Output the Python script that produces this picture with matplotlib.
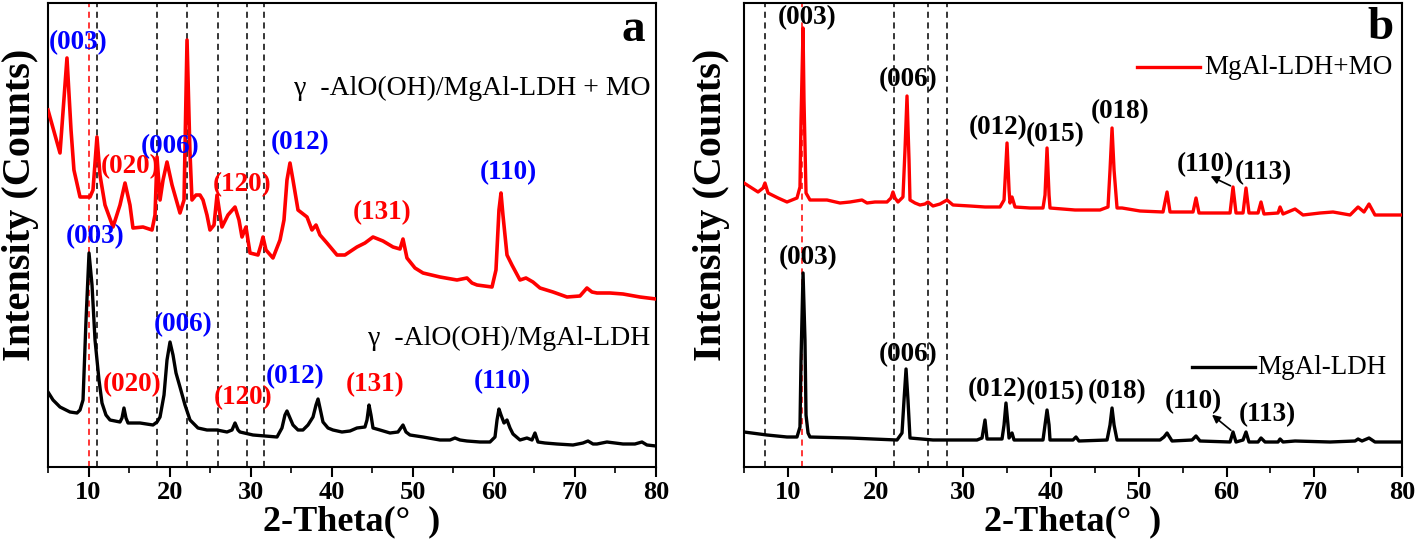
import matplotlib
matplotlib.use("Agg")
import matplotlib.pyplot as plt
from matplotlib.ticker import MultipleLocator

plt.rcParams["font.family"] = ["Liberation Serif", "DejaVu Serif"]

# panel a: gamma-AlO(OH)/MgAl-LDH + MO (red) and gamma-AlO(OH)/MgAl-LDH (black)
a_mo_x = [5.0, 6.48, 7.34, 7.84, 8.2, 8.95, 10.18, 10.55, 11.04, 11.41, 12.03, 13.02, 13.88, 14.5,
          15.11, 15.48, 16.72, 17.83, 18.2, 18.45, 18.82, 19.19, 19.68, 20.3, 21.28, 21.78, 22.15,
          22.5, 22.76, 23.26, 23.75, 24.12, 24.61, 24.98, 25.48, 25.85, 26.22, 26.46, 27.2, 28.07,
          28.56, 28.93, 29.42, 29.92, 30.9, 31.27, 31.52, 31.89, 32.75, 33.62, 34.11, 34.48, 34.85,
          35.22, 35.84, 36.95, 37.56, 38.06, 38.55, 39.41, 40.65, 41.63, 43.11, 44.1, 45.09, 46.32,
          47.56, 48.42, 48.79, 49.28, 50.27, 51.26, 53.35, 55.45, 56.68, 57.3, 57.92, 59.77, 60.26,
          60.63, 60.88, 61.12, 61.62, 62.23, 63.22, 63.96, 64.82, 65.69, 67.29, 69.02, 70.62, 71.48,
          72.1, 72.72, 74.32, 75.93, 78.02, 80.0]
a_mo_y = [357, 314, 409, 337, 297, 270, 270, 277, 330, 292, 262, 240, 262, 284,
          262, 239, 240, 237, 252, 310, 267, 287, 305, 282, 254, 267, 427,
          317, 267, 272, 272, 267, 252, 237, 242, 272, 252, 240, 252, 260,
          247, 230, 240, 214, 212, 222, 230, 217, 209, 227, 247, 287, 304,
          287, 257, 250, 237, 242, 232, 224, 212, 212, 220, 224, 230, 226,
          220, 218, 228, 209, 199, 194, 190, 187, 189, 184, 182, 180, 197,
          257, 274, 252, 212, 202, 187, 189, 185, 179, 175, 170, 171, 179,
          175, 174, 174, 173, 170, 168]

a_ldh_x = [5.0, 5.62, 6.48, 7.71, 8.58, 8.95, 9.32, 9.69, 10.06, 10.43, 10.8, 11.29, 11.66, 12.15,
           12.65, 13.88, 14.13, 14.37, 14.62, 14.87, 16.35, 17.95, 18.45, 18.82, 19.31, 19.68, 20.05,
           20.42, 20.79, 21.28, 21.9, 22.52, 23.5, 24.61, 25.85, 27.08, 27.7, 28.07, 28.44, 28.68,
           30.29, 31.77, 33.25, 33.86, 34.23, 34.48, 34.85, 35.22, 35.84, 36.45, 37.07, 37.69, 38.06,
           38.31, 38.55, 38.92, 39.54, 40.15, 41.26, 42.25, 43.11, 44.1, 44.35, 44.6, 44.84, 45.09,
           45.95, 47.19, 48.17, 48.79, 49.16, 49.65, 51.26, 53.35, 54.59, 55.2, 55.82, 56.68, 58.29,
           59.52, 60.14, 60.39, 60.63, 60.88, 61.25, 61.62, 61.99, 62.36, 63.22, 64.08, 64.7, 65.07,
           65.44, 66.3, 67.78, 69.76, 70.99, 71.61, 72.23, 72.72, 73.95, 75.93, 77.4, 78.27, 78.88, 80.0]
a_ldh_y = [75, 67, 60, 55, 54, 57, 67, 147, 214, 182, 127, 87, 64, 52,
           47, 45, 49, 59, 49, 44, 44, 42, 45, 50, 72, 107, 125,
           112, 94, 80, 62, 47, 39, 37, 37, 35, 37, 44, 37, 35,
           32, 31, 30, 39, 52, 56, 49, 42, 37, 37, 42, 50, 62,
           68, 59, 45, 39, 37, 35, 36, 39, 40, 47, 62, 52, 39,
           37, 34, 35, 42, 35, 32, 30, 27, 27, 29, 27, 26, 25,
           25, 30, 47, 58, 52, 44, 47, 39, 33, 27, 29, 27, 34,
           25, 24, 23, 22, 24, 26, 23, 23, 25, 23, 23, 25, 22, 21]

a_dash_black = [11.1, 18.4, 22.2, 25.95, 29.5, 31.6]
a_dash_red = [10.1]

a_mo_labels = ["(003)", "(020)", "(006)", "(120)", "(012)", "(131)", "(110)"]
a_mo_label_x = [8.7, 15.11, 20.05, 28.93, 36.08, 46.2, 61.74]
a_mo_label_y = [424, 300, 320, 282, 324, 254, 294]
a_ldh_labels = ["(003)", "(020)", "(006)", "(120)", "(012)", "(131)", "(110)"]
a_ldh_label_x = [10.8, 15.36, 21.65, 29.05, 35.47, 45.33, 61.0]
a_ldh_label_y = [230, 82, 142, 69, 90, 82, 85]
a_label_colors = ["blue", "red", "blue", "red", "blue", "red", "blue"]

# panel b: MgAl-LDH+MO (red) and MgAl-LDH (black)
b_mo_x = [5.0, 6.6, 7.17, 7.39, 7.74, 8.88, 9.9, 11.04, 11.38, 11.5, 11.73, 11.84, 12.07, 12.52,
          13.66, 14.46, 15.94, 17.08, 18.45, 19.02, 19.93, 21.3, 21.76, 21.98, 22.21, 22.55, 23.12,
          23.35, 23.58, 23.81, 23.92, 24.49, 25.06, 25.63, 25.97, 26.54, 27.34, 28.14, 28.82, 30.76,
          32.47, 34.18, 34.64, 34.98, 35.21, 35.32, 35.55, 35.89, 37.6, 39.08, 39.31, 39.54, 39.77,
          39.88, 42.73, 45.58, 46.49, 46.72, 46.95, 47.18, 47.52, 48.09, 50.14, 52.76, 53.22, 53.56,
          56.18, 56.52, 56.86, 58.69, 60.4, 60.74, 61.08, 61.88, 62.22, 62.56, 63.59, 63.93, 64.27,
          65.87, 66.1, 66.44, 67.81, 68.72, 70.66, 72.14, 74.08, 74.99, 75.67, 76.24, 76.92, 78.63, 80.0]
b_mo_y = [284, 275, 279, 284, 274, 269, 265, 269, 280, 347, 439, 367, 274, 267,
          267, 267, 264, 265, 267, 264, 265, 265, 269, 275, 269, 265, 270,
          317, 371, 307, 267, 264, 262, 263, 265, 261, 263, 267, 262, 261,
          260, 260, 267, 324, 277, 264, 270, 260, 259, 259, 272, 319, 272,
          259, 257, 257, 260, 297, 339, 297, 259, 259, 256, 255, 275, 255,
          255, 269, 254, 254, 254, 280, 254, 254, 279, 254, 254, 265, 253,
          254, 260, 253, 258, 252, 254, 255, 252, 260, 255, 263, 252, 252, 252]

b_ldh_x = [5.0, 7.62, 9.9, 11.04, 11.38, 11.5, 11.73, 11.95, 12.07, 12.3, 12.52, 17.08, 19.7, 22.44,
           23.01, 23.24, 23.47, 23.69, 23.92, 26.54, 31.56, 32.13, 32.47, 32.7, 34.41, 34.64, 34.86,
           35.09, 35.21, 35.55, 35.78, 39.08, 39.31, 39.54, 39.77, 39.88, 42.5, 42.84, 43.18, 46.38,
           46.72, 46.95, 47.18, 47.52, 52.42, 52.87, 53.22, 53.79, 56.07, 56.52, 56.98, 60.4, 60.74,
           61.08, 61.88, 62.22, 62.56, 63.59, 63.93, 64.39, 65.87, 66.1, 66.44, 67.81, 71.8, 74.65,
           74.99, 75.44, 76.24, 76.92, 80.0]
b_ldh_y = [35, 32, 30, 30, 40, 107, 194, 127, 52, 34, 30, 29, 28, 27,
           34, 67, 98, 67, 29, 27, 27, 29, 47, 28, 28, 42, 64,
           42, 29, 34, 27, 27, 42, 57, 42, 27, 27, 30, 26, 27,
           42, 59, 42, 27, 27, 30, 34, 26, 27, 31, 26, 25, 35,
           25, 27, 35, 25, 25, 29, 25, 25, 28, 25, 26, 25, 26,
           28, 26, 29, 25, 25]

b_dash_black = [7.4, 22.1, 26.0, 28.1]
b_dash_red = [11.65]

b_labels = ["(003)", "(006)", "(012)", "(015)", "(018)", "(110)", "(113)"]
b_mo_label_x = [12.18, 23.69, 33.95, 40.45, 47.86, 57.55, 64.16]
b_mo_label_y = [449, 387, 339, 332, 355, 302, 294]
b_ldh_label_x = [12.3, 23.69, 33.84, 40.45, 47.52, 56.21, 64.61]
b_ldh_label_y = [209, 112, 77, 74, 75, 65, 52]

fig = plt.figure(figsize=(14.18, 5.46), dpi=100)
ax_a = fig.add_axes([48 / 1418, 79 / 546, 608 / 1418, 464 / 546])
ax_b = fig.add_axes([744 / 1418, 79 / 546, 658 / 1418, 464 / 546])


def style_axes(ax, label_x):
    ax.set_xlim(5, 80)
    ax.set_ylim(0, 464)
    ax.set_yticks([])
    ax.xaxis.set_minor_locator(MultipleLocator(5))
    ax.set_xticks([10, 20, 30, 40, 50, 60, 70, 80])
    ax.tick_params(axis="x", which="major", direction="out", length=7, width=1.5, pad=3,
                   labelsize=19)
    ax.tick_params(axis="x", which="minor", direction="out", length=4, width=1.2)
    for lab in ax.get_xticklabels():
        lab.set_fontweight("bold")
    for sp in ax.spines.values():
        sp.set_linewidth(1.5)
    ax.set_xlabel("2-Theta(°  )", fontsize=26, fontweight="bold", labelpad=1)
    ax.set_ylabel("Intensity (Counts)", fontsize=29, fontweight="bold")
    ax.yaxis.set_label_coords(label_x, 0.565)


for ax, blk, red, lx in [(ax_a, a_dash_black, a_dash_red, -0.015),
                         (ax_b, b_dash_black, b_dash_red, -0.021)]:
    for xv in blk:
        ax.axvline(xv, color="black", linestyle=(0, (4, 3)), linewidth=1.1, zorder=1)
    for xv in red:
        ax.axvline(xv, color="red", linestyle=(0, (4, 3)), linewidth=1.1, zorder=1)
    style_axes(ax, lx)

# panel a
ax_a.plot(a_mo_x, a_mo_y, color="red", linewidth=2.6, zorder=3)
ax_a.plot(a_ldh_x, a_ldh_y, color="black", linewidth=2.4, zorder=3)
for t, x, y, c in zip(a_mo_labels, a_mo_label_x, a_mo_label_y, a_label_colors):
    ax_a.text(x, y, t, color=c, fontsize=19.5, fontweight="bold", ha="center", va="center", zorder=4)
for t, x, y, c in zip(a_ldh_labels, a_ldh_label_x, a_ldh_label_y, a_label_colors):
    ax_a.text(x, y, t, color=c, fontsize=19.5, fontweight="bold", ha="center", va="center", zorder=4)
ax_a.text(79.3, 379, "γ  -AlO(OH)/MgAl-LDH + MO", fontsize=20, ha="right", va="center")
ax_a.text(79.3, 129, "γ  -AlO(OH)/MgAl-LDH", fontsize=20, ha="right", va="center")
ax_a.text(77.2, 437, "a", fontsize=34, fontweight="bold", ha="center", va="center")

# panel b
ax_b.plot(b_mo_x, b_mo_y, color="red", linewidth=2.4, zorder=3)
ax_b.plot(b_ldh_x, b_ldh_y, color="black", linewidth=2.4, zorder=3)
for t, x, y in zip(b_labels, b_mo_label_x, b_mo_label_y):
    ax_b.text(x, y, t, color="black", fontsize=19.5, fontweight="bold", ha="center", va="center", zorder=4)
for t, x, y in zip(b_labels, b_ldh_label_x, b_ldh_label_y):
    ax_b.text(x, y, t, color="black", fontsize=19.5, fontweight="bold", ha="center", va="center", zorder=4)
ax_b.annotate("", xy=(57.9, 292), xytext=(60.74, 280),
              arrowprops=dict(arrowstyle="-|>", color="black", lw=1.2, mutation_scale=12))
ax_b.annotate("", xy=(58.1, 54), xytext=(60.74, 35),
              arrowprops=dict(arrowstyle="-|>", color="black", lw=1.2, mutation_scale=12))
ax_b.plot([49.8, 57.0], [400, 400], color="red", linewidth=2.4)
ax_b.text(57.5, 400, "MgAl-LDH+MO", fontsize=19.5, ha="left", va="center")
ax_b.plot([56.1, 63.2], [100, 100], color="black", linewidth=2.4)
ax_b.text(63.5, 100, "MgAl-LDH", fontsize=19.5, ha="left", va="center")
ax_b.text(77.5, 439, "b", fontsize=34, fontweight="bold", ha="center", va="center")

fig.savefig("out.png", dpi=100)
